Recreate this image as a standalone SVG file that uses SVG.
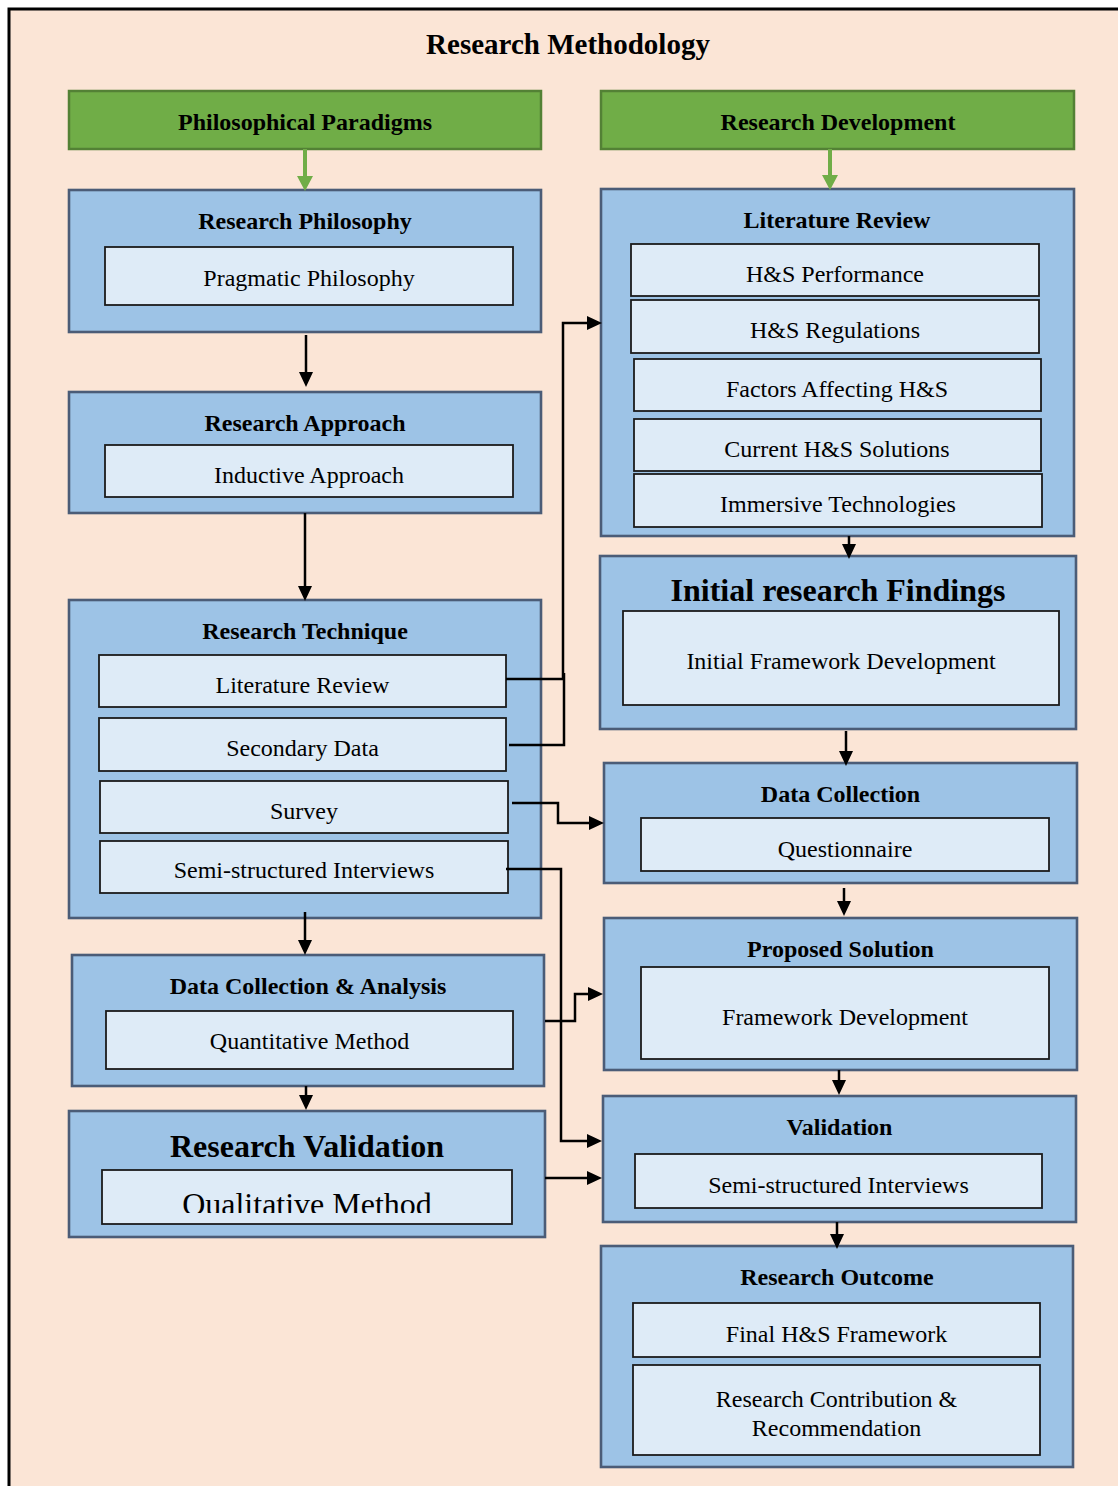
<svg xmlns="http://www.w3.org/2000/svg" width="1118" height="1486" viewBox="0 0 1118 1486">
  <style>
    .frame { fill: #FBE5D6; stroke: #000; stroke-width: 3; }
    .green { fill: #70AD47; stroke: #538135; stroke-width: 2.5; }
    .outer { fill: #9DC3E6; stroke: #4B5C77; stroke-width: 2.6; }
    .inner { fill: #DEEBF7; stroke: #1B1B1B; stroke-width: 1.8; }
    .t { font-family: "Liberation Serif", "Times New Roman", serif; font-size: 24px; text-anchor: middle; fill: #000; }
    .b { font-weight: bold; }
    .big { font-size: 32px; }
    .ttl { font-size: 29px; font-weight: bold; }
    .conn { fill: none; stroke: #000; stroke-width: 2.5; }
    .gconn { fill: none; stroke: #70AD47; stroke-width: 4; }
  </style>
  <defs>
    <marker id="arrow" markerUnits="userSpaceOnUse" markerWidth="15" markerHeight="15" refX="11" refY="7" orient="auto">
      <path d="M0,0 L15,7 L0,14 z" fill="#000"/>
    </marker>
    <marker id="garrow" markerUnits="userSpaceOnUse" markerWidth="16" markerHeight="16" refX="11" refY="8" orient="auto">
      <path d="M0,0 L15,8 L0,16 z" fill="#70AD47"/>
    </marker>
    <clipPath id="qualClip">
      <rect x="102" y="1170" width="410" height="43"/>
    </clipPath>
  </defs>

  <!-- page background and frame -->
  <rect width="1118" height="1486" fill="#FFFFFF"/>
  <rect class="frame" x="9" y="9" width="1200" height="1600"/>
  <text class="t ttl" x="568" y="54">Research Methodology</text>

  <!-- left column -->
  <g id="philosophical-paradigms">
    <rect class="green" x="69" y="91" width="472" height="58"/>
    <text class="t b" x="305" y="130">Philosophical Paradigms</text>
  </g>

  <g id="research-philosophy">
    <rect class="outer" x="69" y="190" width="472" height="142"/>
    <text class="t b" x="305" y="229">Research Philosophy</text>
    <rect class="inner" x="105" y="247" width="408" height="58"/>
    <text class="t" x="309" y="286">Pragmatic Philosophy</text>
  </g>

  <g id="research-approach">
    <rect class="outer" x="69" y="392" width="472" height="121"/>
    <text class="t b" x="305" y="431">Research Approach</text>
    <rect class="inner" x="105" y="445" width="408" height="52"/>
    <text class="t" x="309" y="483">Inductive Approach</text>
  </g>

  <g id="research-technique">
    <rect class="outer" x="69" y="600" width="472" height="318"/>
    <text class="t b" x="305" y="639">Research Technique</text>
    <rect class="inner" x="99" y="655" width="407" height="52"/>
    <text class="t" x="302.5" y="693">Literature Review</text>
    <rect class="inner" x="99" y="718" width="407" height="53"/>
    <text class="t" x="302.5" y="756">Secondary Data</text>
    <rect class="inner" x="100" y="781" width="408" height="52"/>
    <text class="t" x="304" y="819">Survey</text>
    <rect class="inner" x="100" y="841" width="408" height="52"/>
    <text class="t" x="304" y="878">Semi-structured Interviews</text>
  </g>

  <g id="data-collection-analysis">
    <rect class="outer" x="72" y="955" width="472" height="131"/>
    <text class="t b" x="308" y="994">Data Collection &amp; Analysis</text>
    <rect class="inner" x="106" y="1011" width="407" height="58"/>
    <text class="t" x="309.5" y="1049">Quantitative Method</text>
  </g>

  <g id="research-validation">
    <rect class="outer" x="69" y="1111" width="476" height="126"/>
    <text class="t b big" x="307" y="1157">Research Validation</text>
    <rect class="inner" x="102" y="1170" width="410" height="54"/>
    <text class="t big" x="307" y="1215" clip-path="url(#qualClip)">Qualitative Method</text>
  </g>

  <!-- right column -->
  <g id="research-development">
    <rect class="green" x="601" y="91" width="473" height="58"/>
    <text class="t b" x="838" y="130">Research Development</text>
  </g>

  <g id="literature-review">
    <rect class="outer" x="601" y="189" width="473" height="347"/>
    <text class="t b" x="837" y="228">Literature Review</text>
    <rect class="inner" x="631" y="244" width="408" height="52"/>
    <text class="t" x="835" y="282">H&amp;S Performance</text>
    <rect class="inner" x="631" y="300" width="408" height="53"/>
    <text class="t" x="835" y="338">H&amp;S Regulations</text>
    <rect class="inner" x="634" y="359" width="407" height="52"/>
    <text class="t" x="837" y="397">Factors Affecting H&amp;S</text>
    <rect class="inner" x="634" y="419" width="407" height="52"/>
    <text class="t" x="837" y="457">Current H&amp;S Solutions</text>
    <rect class="inner" x="634" y="474" width="408" height="53"/>
    <text class="t" x="838" y="512">Immersive Technologies</text>
  </g>

  <g id="initial-findings">
    <rect class="outer" x="600" y="556" width="476" height="173"/>
    <text class="t b big" x="838" y="601">Initial research Findings</text>
    <rect class="inner" x="623" y="611" width="436" height="94"/>
    <text class="t" x="841" y="669">Initial Framework Development</text>
  </g>

  <g id="data-collection">
    <rect class="outer" x="604" y="763" width="473" height="120"/>
    <text class="t b" x="840.5" y="802">Data Collection</text>
    <rect class="inner" x="641" y="818" width="408" height="53"/>
    <text class="t" x="845" y="857">Questionnaire</text>
  </g>

  <g id="proposed-solution">
    <rect class="outer" x="604" y="918" width="473" height="152"/>
    <text class="t b" x="840.5" y="957">Proposed Solution</text>
    <rect class="inner" x="641" y="967" width="408" height="92"/>
    <text class="t" x="845" y="1025">Framework Development</text>
  </g>

  <g id="validation">
    <rect class="outer" x="603" y="1096" width="473" height="126"/>
    <text class="t b" x="839.5" y="1135">Validation</text>
    <rect class="inner" x="635" y="1154" width="407" height="54"/>
    <text class="t" x="838.5" y="1193">Semi-structured Interviews</text>
  </g>

  <g id="research-outcome">
    <rect class="outer" x="601" y="1246" width="472" height="221"/>
    <text class="t b" x="837" y="1285">Research Outcome</text>
    <rect class="inner" x="633" y="1303" width="407" height="54"/>
    <text class="t" x="836.5" y="1342">Final H&amp;S Framework</text>
    <rect class="inner" x="633" y="1365" width="407" height="90"/>
    <text class="t" x="836.5" y="1407">Research Contribution &amp;</text>
    <text class="t" x="836.5" y="1436">Recommendation</text>
  </g>

  <!-- connectors, drawn over the boxes so the technique links show across the blue panel -->
  <g id="connectors">
    <path class="gconn" d="M305,149 V187" marker-end="url(#garrow)"/>
    <path class="gconn" d="M830,149 V186" marker-end="url(#garrow)"/>

    <path class="conn" d="M306,335 V383" marker-end="url(#arrow)"/>
    <path class="conn" d="M305,513 V597" marker-end="url(#arrow)"/>
    <path class="conn" d="M305,912 V951" marker-end="url(#arrow)"/>
    <path class="conn" d="M306,1086 V1106" marker-end="url(#arrow)"/>

    <path class="conn" d="M849,536 V555" marker-end="url(#arrow)"/>
    <path class="conn" d="M846,731 V762" marker-end="url(#arrow)"/>
    <path class="conn" d="M844,888 V912" marker-end="url(#arrow)"/>
    <path class="conn" d="M839,1070 V1091" marker-end="url(#arrow)"/>
    <path class="conn" d="M837,1222 V1245" marker-end="url(#arrow)"/>

    <path class="conn" d="M506,679 H563 V323 H598" marker-end="url(#arrow)"/>
    <path class="conn" d="M509,745 H564 V673"/>
    <path class="conn" d="M512,803 H558 V823 H600" marker-end="url(#arrow)"/>
    <path class="conn" d="M506,869 H561 V1141 H598" marker-end="url(#arrow)"/>
    <path class="conn" d="M545,1021 H575 V994 H599" marker-end="url(#arrow)"/>
    <path class="conn" d="M545,1178 H598" marker-end="url(#arrow)"/>
  </g>
</svg>
